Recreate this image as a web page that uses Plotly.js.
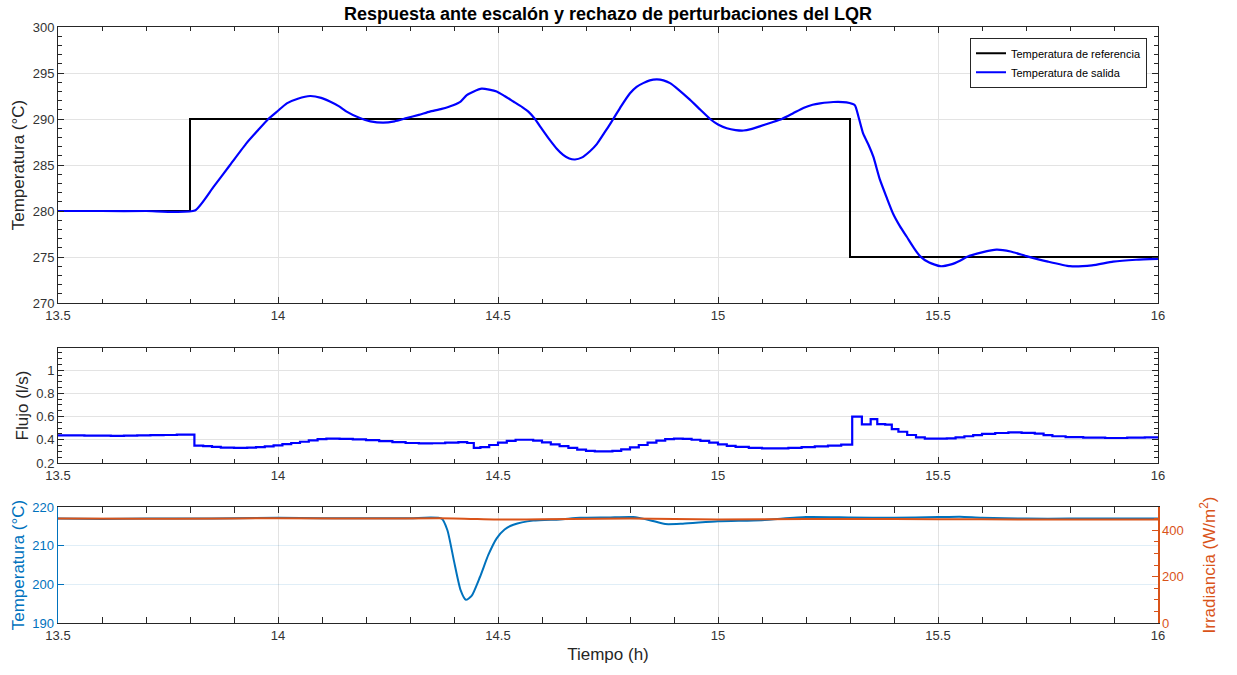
<!DOCTYPE html>
<html>
<head>
<meta charset="utf-8">
<script src="https://cdn.plot.ly/plotly-3.0.1.min.js"></script>
<style>
  html, body { margin: 0; padding: 0; background: #ffffff; }
  #chart { width: 1237px; height: 675px; }
</style>
</head>
<body>
<div id="chart"></div>
<script>
// Reference setpoint (step changes)
const tRef = [13.5, 13.8, 15.3, 16];
const tempRef = [280, 290, 275, 275];

// Controlled outlet temperature
const tSalida = [13.5, 13.6, 13.7, 13.811, 13.853, 13.891, 13.929, 13.955, 13.978, 14.0, 14.02, 14.045, 14.073, 14.098, 14.118, 14.138, 14.156, 14.186, 14.21, 14.239, 14.265, 14.292, 14.32, 14.345, 14.372, 14.398, 14.415, 14.429, 14.445, 14.463, 14.48, 14.497, 14.515, 14.535, 14.555, 14.569, 14.584, 14.6, 14.618, 14.633, 14.648, 14.662, 14.675, 14.69, 14.709, 14.725, 14.739, 14.75, 14.762, 14.78, 14.8, 14.815, 14.83, 14.845, 14.861, 14.876, 14.891, 14.91, 14.936, 14.96, 14.982, 15.0, 15.02, 15.04, 15.058, 15.075, 15.095, 15.12, 15.145, 15.17, 15.194, 15.215, 15.232, 15.262, 15.292, 15.311, 15.319, 15.33, 15.342, 15.353, 15.368, 15.383, 15.398, 15.414, 15.429, 15.445, 15.459, 15.48, 15.505, 15.53, 15.55, 15.565, 15.6, 15.633, 15.665, 15.701, 15.75, 15.8, 15.85, 15.898, 15.95, 16];
const tempSalida = [280, 280, 280, 280.05, 282.6, 285.0, 287.4, 288.8, 290, 290.9, 291.7, 292.2, 292.5, 292.3, 291.9, 291.4, 290.8, 290.1, 289.75, 289.6, 289.75, 290.1, 290.45, 290.8, 291.1, 291.5, 291.9, 292.6, 293.0, 293.3, 293.2, 293.0, 292.5, 291.9, 291.3, 290.8, 290.0, 288.9, 287.7, 286.8, 286.1, 285.7, 285.6, 285.8, 286.5, 287.3, 288.3, 289.1, 290.0, 291.4, 292.8, 293.5, 293.9, 294.2, 294.3, 294.2, 293.9, 293.2, 292.1, 291.0, 290.0, 289.4, 289.0, 288.8, 288.75, 288.9, 289.2, 289.6, 290.0, 290.6, 291.2, 291.55, 291.7, 291.85, 291.8, 291.5, 290.3, 288.4, 287.2, 285.9, 283.4, 281.5, 279.7, 278.3, 277.2, 276.0, 275.1, 274.4, 274.0, 274.2, 274.6, 275.0, 275.5, 275.8, 275.6, 275.1, 274.5, 274.0, 274.1, 274.5, 274.7, 274.8];

// Control action: flow (sample-and-hold)
const tFlujo = [13.5, 13.53, 13.56, 13.59, 13.62, 13.65, 13.68, 13.71, 13.74, 13.77, 13.81, 13.83, 13.85, 13.87, 13.9, 13.93, 13.95, 13.97, 13.99, 14.01, 14.03, 14.05, 14.07, 14.09, 14.11, 14.14, 14.17, 14.2, 14.23, 14.26, 14.29, 14.32, 14.35, 14.38, 14.41, 14.43, 14.445, 14.46, 14.48, 14.5, 14.52, 14.54, 14.56, 14.58, 14.6, 14.62, 14.64, 14.66, 14.68, 14.7, 14.72, 14.74, 14.76, 14.78, 14.8, 14.82, 14.84, 14.86, 14.88, 14.9, 14.92, 14.94, 14.96, 14.98, 15.0, 15.02, 15.04, 15.07, 15.1, 15.13, 15.16, 15.19, 15.22, 15.25, 15.28, 15.305, 15.327, 15.347, 15.362, 15.38, 15.395, 15.41, 15.43, 15.45, 15.47, 15.52, 15.54, 15.56, 15.58, 15.6, 15.63, 15.66, 15.69, 15.72, 15.74, 15.76, 15.79, 15.83, 15.88, 15.93, 15.97, 16];
const flujo = [0.437, 0.437, 0.436, 0.435, 0.434, 0.436, 0.438, 0.44, 0.441, 0.444, 0.35, 0.345, 0.338, 0.333, 0.33, 0.332, 0.336, 0.343, 0.352, 0.362, 0.372, 0.383, 0.395, 0.405, 0.41, 0.408, 0.403, 0.396, 0.388, 0.38, 0.372, 0.368, 0.37, 0.376, 0.38, 0.372, 0.33, 0.337, 0.355, 0.375, 0.39, 0.4, 0.4, 0.392, 0.378, 0.36, 0.345, 0.33, 0.315, 0.305, 0.3, 0.3, 0.305, 0.318, 0.335, 0.355, 0.375, 0.392, 0.405, 0.41, 0.408, 0.4, 0.39, 0.375, 0.36, 0.348, 0.338, 0.33, 0.325, 0.326, 0.33, 0.336, 0.343, 0.35, 0.358, 0.6, 0.533, 0.578, 0.535, 0.53, 0.492, 0.469, 0.441, 0.421, 0.409, 0.412, 0.42, 0.43, 0.44, 0.45, 0.458, 0.463, 0.46, 0.452, 0.44, 0.43, 0.422, 0.418, 0.415, 0.418, 0.42, 0.42];

// Disturbances: inlet temperature and irradiance
const tEntrada = [13.5, 13.6, 13.7, 13.8, 13.9, 14.0, 14.1, 14.2, 14.3, 14.372, 14.385, 14.4, 14.415, 14.427, 14.44, 14.459, 14.478, 14.497, 14.515, 14.535, 14.58, 14.64, 14.686, 14.75, 14.807, 14.845, 14.88, 14.92, 15.0, 15.1, 15.2, 15.3, 15.4, 15.5, 15.55, 15.6, 15.7, 15.8, 15.9, 16];
const tempEntrada = [217, 216.9, 217, 217, 217.1, 217.2, 217.1, 217.1, 217.1, 217, 214, 206, 198.5, 196, 197, 201.9, 207.6, 211.9, 214.2, 215.4, 216.5, 216.8, 217.2, 217.3, 217.4, 216.6, 215.6, 215.7, 216.3, 216.6, 217.4, 217.3, 217.2, 217.4, 217.5, 217.2, 217, 217, 217, 217];
const tIrr = [13.5, 13.7, 13.9, 14.0, 14.2, 14.4, 14.5, 14.6, 14.8, 15.0, 15.2, 15.4, 15.6, 15.8, 16];
const irradiancia = [450, 449, 451, 452, 450, 451, 446, 447, 450, 446, 448, 448, 447, 446, 446];

const FONT = 'Liberation Sans, Arial, Helvetica, sans-serif';
const INK = '#262626';
const TXT = '#333333';
const GRID = '#e3e3e3';
const AZUL = '#0072BD';
const NARANJA = '#D95319';

const traces = [
  { x: tRef, y: tempRef, type: 'scatter', mode: 'lines', line: { color: '#000000', width: 2, shape: 'hv' },
    name: 'Temperatura de referencia', xaxis: 'x', yaxis: 'y' },
  { x: tSalida, y: tempSalida, type: 'scatter', mode: 'lines', line: { color: '#0000FF', width: 2.2, shape: 'spline', smoothing: 0.5 },
    name: 'Temperatura de salida', xaxis: 'x', yaxis: 'y' },
  { x: tFlujo, y: flujo, type: 'scatter', mode: 'lines', line: { color: '#0000FF', width: 2.2, shape: 'hv' },
    showlegend: false, xaxis: 'x2', yaxis: 'y2' },
  { x: tEntrada, y: tempEntrada, type: 'scatter', mode: 'lines', line: { color: AZUL, width: 2, shape: 'spline', smoothing: 0.6 },
    showlegend: false, xaxis: 'x3', yaxis: 'y3' },
  { x: tIrr, y: irradiancia, type: 'scatter', mode: 'lines', line: { color: NARANJA, width: 2, shape: 'spline' },
    showlegend: false, xaxis: 'x3', yaxis: 'y4' }
];

function ejeX(anchor, extra) {
  return Object.assign({
    anchor: anchor, range: [13.5, 16], tick0: 13.5, dtick: 0.5,
    ticks: 'inside', ticklen: 6, tickcolor: INK, tickwidth: 1,
    minor: { dtick: 0.1, tick0: 13.5, ticks: 'inside', ticklen: 4, tickcolor: INK, showgrid: false },
    showline: true, linecolor: INK, linewidth: 1, mirror: 'allticks',
    showgrid: true, gridcolor: GRID, gridwidth: 1, zeroline: false,
    tickfont: { family: FONT, size: 13, color: TXT }
  }, extra || {});
}

const layout = {
  width: 1237, height: 675,
  paper_bgcolor: '#ffffff', plot_bgcolor: '#ffffff',
  margin: { l: 58, r: 79, t: 27, b: 52 },
  font: { family: FONT, color: INK },
  title: {
    text: '<b>Respuesta ante escalón y rechazo de perturbaciones del LQR</b>',
    font: { family: FONT, size: 18, color: '#000000' },
    x: 0.5, xref: 'paper', xanchor: 'center', y: 1 - 14 / 675, yref: 'container', yanchor: 'middle'
  },
  showlegend: true,
  legend: {
    x: 0.99, y: 0.982, xanchor: 'right', yanchor: 'top',
    bgcolor: '#ffffff', bordercolor: INK, borderwidth: 1,
    font: { family: FONT, size: 11, color: '#000000' },
    tracegroupgap: 0, itemwidth: 30
  },
  xaxis: ejeX('y', { domain: [0, 1] }),
  yaxis: {
    domain: [0.5369, 1], anchor: 'x', range: [270, 300], dtick: 5,
    ticks: 'inside', ticklen: 6, tickcolor: INK,
    minor: { dtick: 1, ticks: 'inside', ticklen: 4, tickcolor: INK, showgrid: false },
    showline: true, linecolor: INK, mirror: 'allticks',
    showgrid: true, gridcolor: GRID, zeroline: false,
    tickfont: { family: FONT, size: 13, color: TXT },
    title: { text: 'Temperatura (°C)', font: { family: FONT, size: 17, color: INK }, standoff: 3 }
  },
  xaxis2: ejeX('y2', { domain: [0, 1] }),
  yaxis2: {
    domain: [0.2685, 0.4614], anchor: 'x2', range: [0.2, 1.19],
    tickvals: [0.2, 0.4, 0.6, 0.8, 1], ticktext: ['0.2', '0.4', '0.6', '0.8', '1'],
    ticks: 'inside', ticklen: 6, tickcolor: INK,
    minor: { dtick: 0.05, tick0: 0.2, ticks: 'inside', ticklen: 4, tickcolor: INK, showgrid: false },
    showline: true, linecolor: INK, mirror: 'allticks',
    showgrid: true, gridcolor: GRID, zeroline: false,
    tickfont: { family: FONT, size: 13, color: TXT },
    title: { text: 'Flujo (l/s)', font: { family: FONT, size: 17, color: INK }, standoff: 3 }
  },
  xaxis3: ejeX('y3', {
    domain: [0, 1],
    title: { text: 'Tiempo (h)', font: { family: FONT, size: 17, color: INK }, standoff: 6 }
  }),
  yaxis3: {
    domain: [0, 0.1946], anchor: 'x3', range: [190, 220], dtick: 10,
    ticks: 'inside', ticklen: 6, tickcolor: AZUL,
    showline: true, linecolor: AZUL, linewidth: 1.5, mirror: false,
    showgrid: true, gridcolor: 'rgba(0,114,189,0.12)', zeroline: false,
    tickfont: { family: FONT, size: 13, color: AZUL },
    title: { text: 'Temperatura (°C)', font: { family: FONT, size: 17, color: AZUL }, standoff: 3 }
  },
  yaxis4: {
    anchor: 'x3', overlaying: 'y3', side: 'right', range: [0, 500],
    tickvals: [0, 200, 400],
    ticks: 'inside', ticklen: 6, tickcolor: NARANJA,
    minor: { dtick: 50, ticks: 'inside', ticklen: 4, tickcolor: NARANJA, showgrid: false },
    showline: true, linecolor: NARANJA, linewidth: 1.5,
    showgrid: false, zeroline: false,
    tickfont: { family: FONT, size: 13, color: NARANJA },
    title: { text: 'Irradiancia (W/m<sup>2</sup>)', font: { family: FONT, size: 17, color: NARANJA }, standoff: 20 }
  }
};

Plotly.newPlot('chart', traces, layout, { displayModeBar: false, staticPlot: true });
</script>
</body>
</html>
